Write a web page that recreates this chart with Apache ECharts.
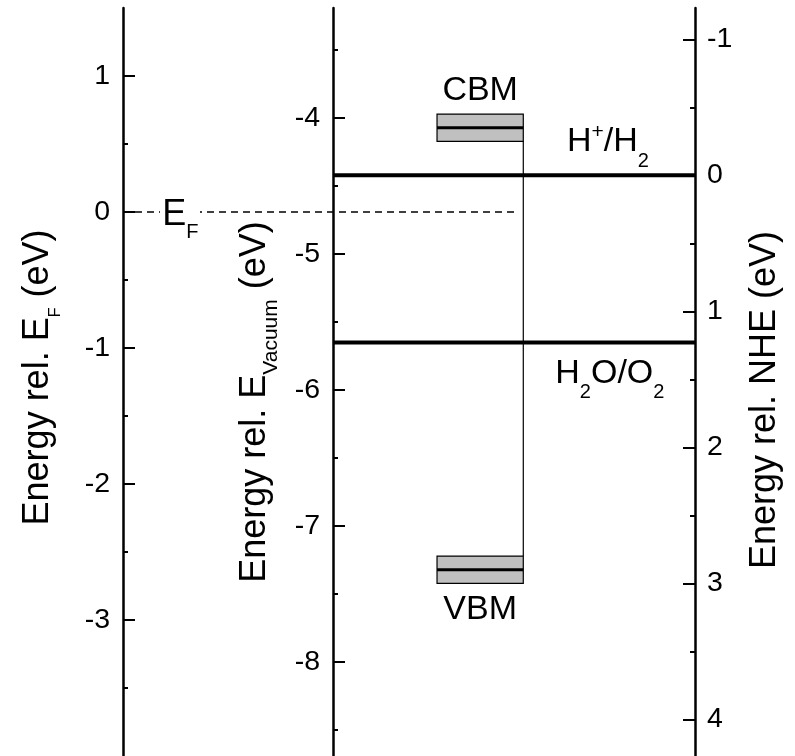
<!DOCTYPE html>
<html><head><meta charset="utf-8">
<script src="https://cdn.jsdelivr.net/npm/echarts@6/dist/echarts.min.js"></script>
<style>html,body{margin:0;padding:0;background:#fff}#c{width:795px;height:756px}</style>
</head><body><div id="c"></div>
<script>
// ---------------- data ----------------
const efRange = [-4, 1.5];                       // eV rel. E_F
const efMajorTicks = [-3, -2, -1, 0, 1];
const efMinorTicks = [-3.5, -2.5, -1.5, -0.5, 0.5];
const vacRange = [-8.69, -3.19];                 // eV rel. vacuum
const vacMajorTicks = [-8, -7, -6, -5, -4];
const vacMinorTicks = [-8.5, -7.5, -6.5, -5.5, -4.5, -3.5];
const nheRange = [-1.23, 4.27];                  // eV rel. NHE (inverted)
const nheMajorTicks = [-1, 0, 1, 2, 3, 4];
const nheMinorTicks = [-0.5, 0.5, 1.5, 2.5, 3.5];
const fermiLevel = [0];
const fermiName = ['E_F'];
const bandNames = ['CBM', 'VBM'];
const bandEnergies = [-4.07, -7.32];             // eV rel. vacuum
const bandSpread = [0.1, 0.1];
const redoxNames = ['H^+/H_2', 'H_2O/O_2'];
const redoxPotentials = [0, 1.23];               // V vs NHE
const axisTitles = ['Energy rel. E_F (eV)', 'Energy rel. E_{Vacuum} (eV)', 'Energy rel. NHE (eV)'];

// ---------------- layout (x in % of frame between left and right axis) ----------------
const X_LEFT = 0, X_MID = 36.71, X_BOX_L = 54.9, X_BOX_R = 69.98, X_EF_END = 68.88, X_RIGHT = 100;

const FONT = '"Liberation Sans", Arial, Helvetica, sans-serif';
const mctx = document.createElement('canvas').getContext('2d');
function tw(t, fs) { mctx.font = fs + 'px ' + FONT; return mctx.measureText(t).width; }
const MIDK = 0.33;
function parseMarkup(s, fs, subFs, subDy, supFs, supDy) {
  const out = []; let buf = '';
  for (let i = 0; i < s.length; i++) {
    const c = s[i];
    if (c === '_' || c === '^') {
      if (buf) { out.push([buf, fs, 0]); buf = ''; }
      let t;
      if (s[i + 1] === '{') { const j = s.indexOf('}', i); t = s.slice(i + 2, j); i = j; }
      else { t = s[i + 1]; i++; }
      out.push(c === '_' ? [t, subFs, subDy] : [t, supFs, supDy]);
    } else buf += c;
  }
  if (buf) out.push([buf, fs, 0]);
  return out;
}
function run(pieces, ox, oy, align) {
  let w = 0; pieces.forEach(p => { w += tw(p[0], p[1]); });
  let x = align === 'center' ? -w / 2 : align === 'right' ? -w : 0;
  const kids = [];
  pieces.forEach(([t, fs, dy]) => {
    kids.push({type: 'text', x: ox + x, y: oy + dy - (0.5 + MIDK) * fs,
      style: {text: t, font: fs + 'px ' + FONT, fill: '#000', textAlign: 'left', textVerticalAlign: 'top'}});
    x += tw(t, fs);
  });
  return kids;
}

function axisPair(range, major, minor, pos, offset, inverse, margin) {
  return [{
    type: 'value', min: range[0], max: range[1], position: pos, offset: offset, inverse: inverse,
    axisLine: {show: true, onZero: false, lineStyle: {color: '#000', width: 2.5}},
    axisTick: {show: true, inside: true, length: 12, lineStyle: {color: '#000', width: 2}, customValues: major},
    axisLabel: {show: true, customValues: major, margin: margin, color: '#000', fontSize: 28.5, fontFamily: FONT},
    splitLine: {show: false}
  }, {
    type: 'value', min: range[0], max: range[1], position: pos, offset: offset, inverse: inverse,
    axisLine: {show: false, onZero: false},
    axisTick: {show: true, inside: true, length: 5, lineStyle: {color: '#000', width: 2}, customValues: minor},
    axisLabel: {show: false}, splitLine: {show: false}
  }];
}

const chart = echarts.init(document.getElementById('c'), null, {renderer: 'canvas'});
const GRID_LEFT = 123, GRID_RIGHT = 100, GRID_TOP = 8, GRID_H = 750;
const midOffset = -(333 - GRID_LEFT);

const yAxes = [].concat(
  axisPair(efRange, efMajorTicks, efMinorTicks, 'left', 0, false, 13),
  axisPair(vacRange, vacMajorTicks, vacMinorTicks, 'left', midOffset, false, 13),
  axisPair(nheRange, nheMajorTicks, nheMinorTicks, 'right', 0, true, 12)
);

const series = [
  { // Fermi level
    type: 'line', xAxisIndex: 0, yAxisIndex: 0, symbol: 'none', silent: true, z: 2,
    data: [[X_LEFT, fermiLevel[0]], [X_EF_END, fermiLevel[0]]],
    lineStyle: {color: '#000', width: 1.4, type: [7, 5]}
  },
  { // band gap connector
    type: 'line', xAxisIndex: 0, yAxisIndex: 2, symbol: 'none', silent: true, z: 2,
    data: [[X_BOX_R, bandEnergies[0] - bandSpread[0]], [X_BOX_R, bandEnergies[1] + bandSpread[1]]],
    lineStyle: {color: '#000', width: 1.2}
  }
];
redoxPotentials.forEach(v => {
  series.push({
    type: 'line', xAxisIndex: 0, yAxisIndex: 4, symbol: 'none', silent: true, z: 2,
    data: [[X_MID, v], [X_RIGHT, v]],
    lineStyle: {color: '#000', width: 4}
  });
});
series.push({ // bands
  type: 'custom', xAxisIndex: 0, yAxisIndex: 2, z: 3, silent: true,
  data: bandEnergies.map((e, i) => [X_BOX_L, X_BOX_R, e, bandSpread[i], i]),
  encode: {x: [0, 1], y: 2},
  renderItem(params, api) {
    const x0 = api.value(0), x1 = api.value(1), e = api.value(2), s = api.value(3), i = api.value(4);
    const pT = api.coord([x0, e + s]), pB = api.coord([x1, e - s]);
    const pL = api.coord([x0, e]), pR = api.coord([x1, e]);
    const kids = [
      {type: 'rect', shape: {x: pT[0], y: pT[1], width: pB[0] - pT[0], height: pB[1] - pT[1]},
        style: {fill: '#c0c0c0', stroke: '#000', lineWidth: 1.2}},
      {type: 'line', shape: {x1: pL[0], y1: pL[1], x2: pR[0], y2: pR[1]}, style: {stroke: '#000', lineWidth: 3}}
    ];
    const cx = (pT[0] + pB[0]) / 2;
    const pcs = parseMarkup(bandNames[i], 34, 20, 14, 20, -14);
    if (i === 0) kids.push(...run(pcs, cx, pT[1] - 12.7, 'center'));
    else kids.push(...run(pcs, cx, pB[1] + 37.9, 'center'));
    return {type: 'group', children: kids};
  }
});
series.push({ // redox labels
  type: 'custom', xAxisIndex: 0, yAxisIndex: 4, z: 3, silent: true,
  data: redoxPotentials.map((v, i) => [X_RIGHT, v, i]),
  encode: {x: 0, y: 1},
  renderItem(params, api) {
    const i = api.value(2);
    const p = api.coord([api.value(0), api.value(1)]);
    const pcs = parseMarkup(redoxNames[i], 34, 20, 15, 21, -14.5);
    const kids = i === 0 ? run(pcs, p[0] - 128, p[1] - 22, 'left') : run(pcs, p[0] - 139.7, p[1] + 42, 'left');
    return {type: 'group', children: kids};
  }
});
series.push({ // Fermi label
  type: 'custom', xAxisIndex: 0, yAxisIndex: 0, z: 4, silent: true,
  data: fermiLevel.map((v, i) => [X_LEFT, v, i]),
  encode: {x: 0, y: 1},
  renderItem(params, api) {
    const p = api.coord([api.value(0), api.value(1)]);
    const pcs = parseMarkup(fermiName[api.value(2)], 36, 20, 13, 20, -14);
    const kids = [{type: 'rect', shape: {x: p[0] + 37, y: p[1] - 16, width: 40, height: 44}, style: {fill: '#fff'}}];
    kids.push(...run(pcs, p[0] + 39.2, p[1] + 14.5, 'left'));
    return {type: 'group', children: kids};
  }
});

function title(text, bx, cy, subFs, subDy) {
  return {type: 'group', x: bx, y: cy, rotation: Math.PI / 2, silent: true,
    children: run(parseMarkup(text, 36, subFs, subDy, 20, -14), 0, 0, 'center')};
}

chart.setOption({
  animation: false,
  backgroundColor: '#fff',
  grid: {left: GRID_LEFT, right: GRID_RIGHT, top: GRID_TOP, height: GRID_H, containLabel: false},
  xAxis: {type: 'value', min: X_LEFT, max: X_RIGHT, show: false},
  yAxis: yAxes,
  series: series,
  graphic: [
    title(axisTitles[0], 50, 377.5, 16, 11),
    title(axisTitles[1], 266.7, 402, 21, 11.3),
    title(axisTitles[2], 776.7, 400, 16, 11)
  ]
});
</script></body></html>
